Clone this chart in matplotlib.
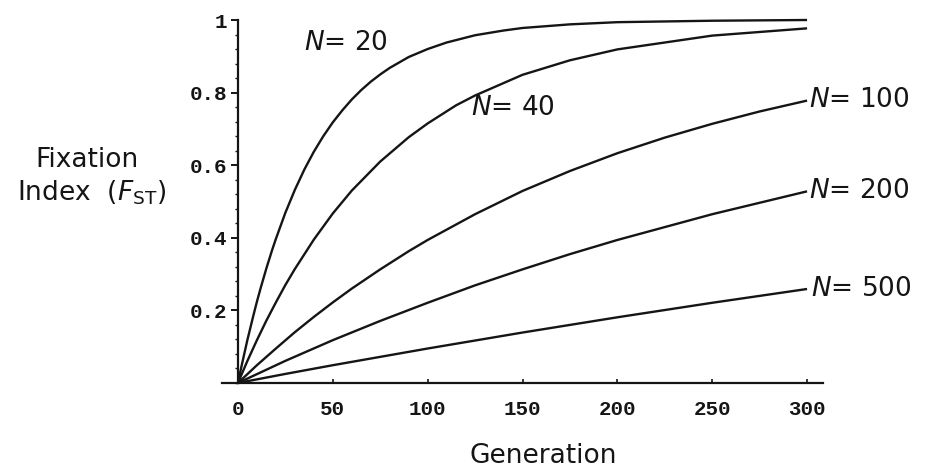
import matplotlib
matplotlib.use("Agg")
import matplotlib.pyplot as plt
from matplotlib.ticker import MultipleLocator, FixedLocator
from matplotlib.font_manager import FontProperties

# Data
gen_20 = [0, 2, 5, 8, 10, 12, 15, 18, 20, 25, 30, 35, 40, 45, 50, 55, 60, 65, 70, 75, 80, 90, 100, 110, 125, 140, 150, 175, 200, 250, 300]
fst_20 = [0, 0.049, 0.119, 0.183, 0.224, 0.262, 0.316, 0.366, 0.397, 0.469, 0.532, 0.588, 0.637, 0.680, 0.718,
          0.751, 0.781, 0.807, 0.830, 0.850, 0.868, 0.898, 0.920, 0.938, 0.958, 0.971, 0.978, 0.988, 0.994, 0.998, 1.0]

gen_40 = [0, 5, 10, 15, 20, 25, 30, 40, 50, 60, 75, 90, 100, 115, 125, 150, 175, 200, 250, 300]
fst_40 = [0, 0.061, 0.118, 0.172, 0.222, 0.270, 0.314, 0.395, 0.467, 0.530, 0.610, 0.677, 0.715, 0.765, 0.792,
          0.849, 0.889, 0.919, 0.957, 0.977]

gen_100 = [0, 10, 20, 30, 40, 50, 60, 75, 90, 100, 125, 150, 175, 200, 225, 250, 275, 300]
fst_100 = [0, 0.049, 0.095, 0.140, 0.182, 0.222, 0.260, 0.313, 0.363, 0.394, 0.465, 0.529, 0.584, 0.633, 0.676,
           0.714, 0.748, 0.778]

gen_200 = [0, 25, 50, 75, 100, 125, 150, 175, 200, 250, 300]
fst_200 = [0, 0.061, 0.118, 0.171, 0.221, 0.269, 0.313, 0.355, 0.394, 0.465, 0.528]

gen_500 = [0, 25, 50, 75, 100, 150, 200, 250, 300]
fst_500 = [0, 0.025, 0.049, 0.072, 0.095, 0.139, 0.181, 0.221, 0.259]

series = [
    ("20", gen_20, fst_20),
    ("40", gen_40, fst_40),
    ("100", gen_100, fst_100),
    ("200", gen_200, fst_200),
    ("500", gen_500, fst_500),
]

x_ticks = [0, 50, 100, 150, 200, 250, 300]
y_ticks = [0.2, 0.4, 0.6, 0.8, 1.0]
y_ticklabels = ["0.2", "0.4", "0.6", "0.8", "1"]

plt.rcParams["mathtext.fontset"] = "dejavusans"

W, H = 925, 470
fig = plt.figure(figsize=(W / 100, H / 100), dpi=100)
ax = fig.add_axes([222 / W, 1 - 385 / H, (823 - 222) / W, (385 - 18) / H])
ax.set_xlim(-8.4, 308.4)
ax.set_ylim(-2 / 363, 1 + 2 / 363)

ink = "#151515"
for name, g, f in series:
    ax.plot(g, f, color=ink, lw=1.7, solid_capstyle="butt", solid_joinstyle="round", clip_on=False)

for s in ["top", "right"]:
    ax.spines[s].set_visible(False)
ax.spines["left"].set_position(("data", 0))
ax.spines["bottom"].set_position(("data", 0))
ax.spines["left"].set_bounds(0, 1)
for s in ["left", "bottom"]:
    ax.spines[s].set_linewidth(1.6)
    ax.spines[s].set_color(ink)

ax.xaxis.set_major_locator(FixedLocator(x_ticks))
ax.yaxis.set_major_locator(FixedLocator(y_ticks))
ax.set_yticklabels(y_ticklabels)
ax.yaxis.set_minor_locator(MultipleLocator(0.04))

tickfp = FontProperties(family="Liberation Mono", weight="bold", size=15)
ax.tick_params(axis="x", direction="in", length=3, width=1.2, pad=12, colors=ink)
ax.tick_params(axis="y", which="major", direction="out", length=5, width=1.4, pad=3, colors=ink)
ax.tick_params(axis="y", which="minor", direction="out", length=2.5, width=1.0, colors=ink)
for lab in ax.get_xticklabels() + ax.get_yticklabels():
    lab.set_fontproperties(tickfp)

lblfont = dict(family="DejaVu Sans", size=19, color=ink)
label_pos = {
    "20": (35, 0.937),
    "40": (123, 0.757),
    "100": (301, 0.78),
    "200": (301, 0.53),
    "500": (302, 0.26),
}
for name, g, f in series:
    x, y = label_pos[name]
    ax.text(x, y, r"$\mathit{N}$= " + name, ha="left", va="center", clip_on=False,
            **lblfont)

fig.text(87 / W, 1 - 160 / H, "Fixation", ha="center", va="center", **lblfont)
fig.text(92 / W, 1 - 193 / H, r"Index  ($\mathit{F}_{\mathrm{ST}}$)", ha="center", va="center", **lblfont)
fig.text(543 / W, 1 - 456 / H, "Generation", ha="center", va="center", **lblfont)

fig.savefig("out.png", dpi=100, facecolor="white")
